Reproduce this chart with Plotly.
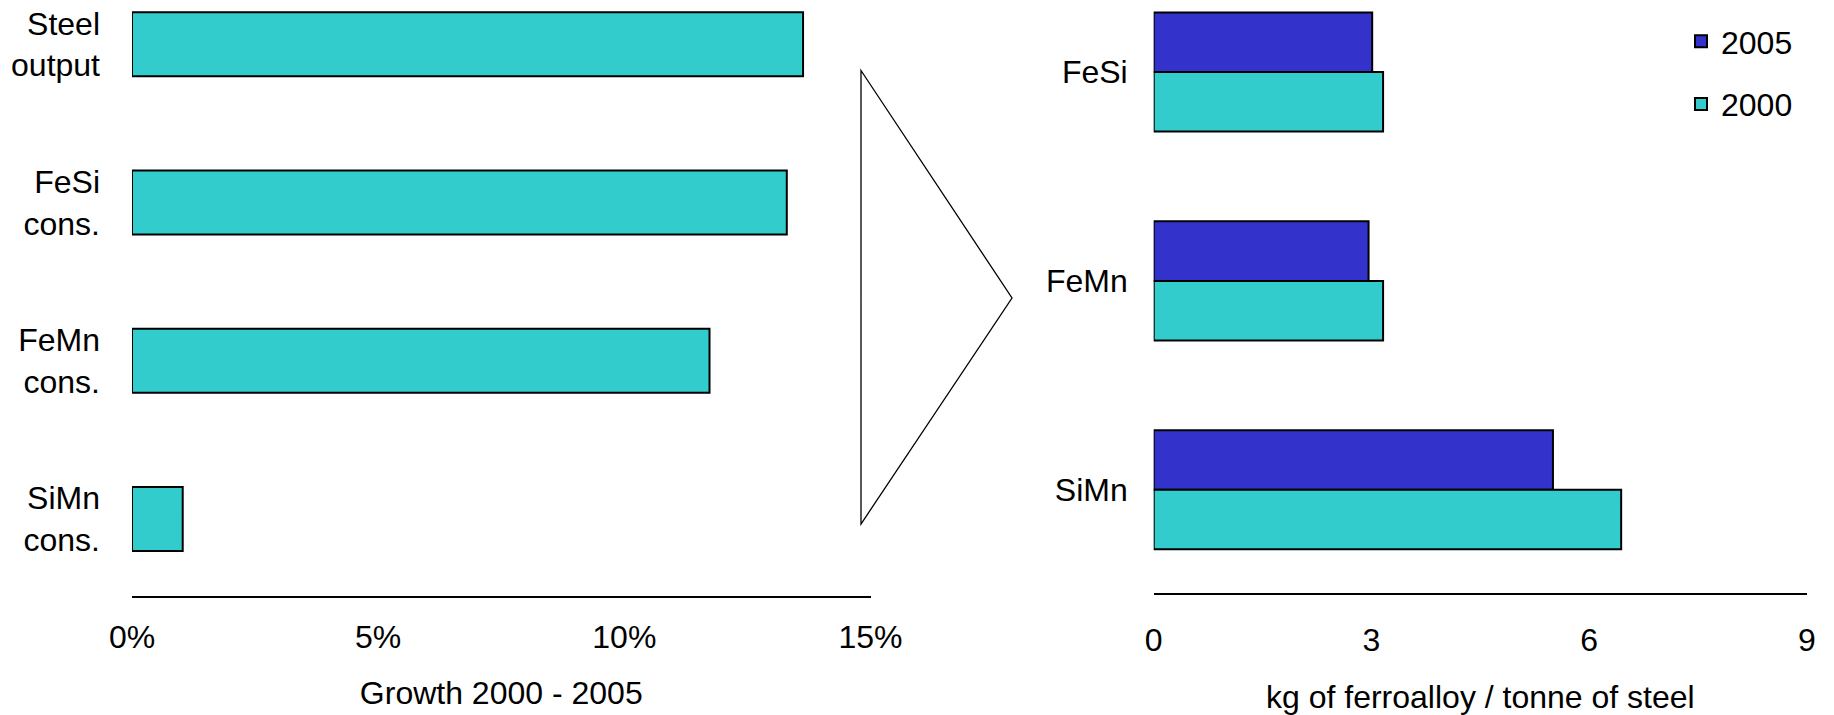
import plotly.graph_objects as go

# Left panel: growth of steel output and ferroalloy consumption, 2000-2005 (%)
growth_labels = ["Steel<br>output", "FeSi<br>cons.", "FeMn<br>cons.", "SiMn<br>cons."]
growth_pct = [13.63, 13.30, 11.73, 1.03]
growth_ticks = [0, 5, 10, 15]
growth_tick_text = ["0%", "5%", "10%", "15%"]

# Right panel: specific ferroalloy consumption (kg per tonne of steel)
alloys = ["FeSi", "FeMn", "SiMn"]
kg_2005 = [3.01, 2.96, 5.50]
kg_2000 = [3.16, 3.16, 6.44]
intensity_ticks = [0, 3, 6, 9]

TEAL = "#33CCCC"
BLUE = "#3333CC"
FONT = "Liberation Sans, Arial, sans-serif"
FS = 32
W, H = 1834, 715

fig = go.Figure()

fig.add_trace(go.Bar(
    y=growth_labels, x=growth_pct, orientation="h",
    width=0.405, marker=dict(color=TEAL, line=dict(color="black", width=2)),
    xaxis="x", yaxis="y", showlegend=False,
))

fig.add_trace(go.Bar(
    y=alloys, x=kg_2005, orientation="h", name="2005", legendgroup="g2005",
    marker=dict(color=BLUE, line=dict(color="black", width=2)),
    xaxis="x2", yaxis="y2",
))
fig.add_trace(go.Bar(
    y=alloys, x=kg_2000, orientation="h", name="2000", legendgroup="g2000",
    marker=dict(color=TEAL, line=dict(color="black", width=2)),
    xaxis="x2", yaxis="y2",
))

# pixel helpers for the panel placement
px_x = lambda p: p / W
px_y = lambda p: 1 - p / H

axis_common = dict(showgrid=False, zeroline=False, ticks="", automargin=False,
                   tickfont=dict(size=FS, color="black"))

fig.update_layout(
    width=W, height=H,
    margin=dict(l=0, r=0, t=0, b=0),
    paper_bgcolor="white", plot_bgcolor="white",
    font=dict(family=FONT, size=FS, color="black"),
    barmode="group", bargap=0.43, bargroupgap=0,
    xaxis=dict(
        domain=[px_x(132), px_x(870.5)], anchor="y", range=[0, 15],
        tickvals=growth_ticks, ticktext=growth_tick_text,
        showline=True, linecolor="black", linewidth=2,
        ticklabelstandoff=12,
        title=dict(text="Growth 2000 - 2005", font=dict(size=FS), standoff=28),
        **axis_common,
    ),
    yaxis=dict(
        domain=[px_y(595.5), 1], anchor="x", range=[3.484, -0.280],
        showline=False, ticklabelstandoff=31,
        **axis_common,
    ),
    xaxis2=dict(
        domain=[px_x(1153.7), px_x(1807)], anchor="y2", range=[0, 9],
        tickvals=intensity_ticks,
        showline=True, linecolor="black", linewidth=2,
        ticklabelstandoff=18,
        title=dict(text="kg of ferroalloy / tonne of steel", font=dict(size=FS), standoff=38),
        **axis_common,
    ),
    yaxis2=dict(
        domain=[px_y(592.7), 1], anchor="x2", range=[2.493, -0.345],
        showline=False, ticklabelstandoff=25,
        **axis_common,
    ),
    legend=dict(
        x=px_x(1681), y=px_y(14), xanchor="left", yanchor="top",
        font=dict(size=FS, color="black"), bgcolor="rgba(0,0,0,0)",
        tracegroupgap=18, traceorder="grouped",
    ),
    shapes=[dict(
        type="path", xref="paper", yref="paper",
        path=(f"M {px_x(861)} {px_y(70.5)} L {px_x(1012)} {px_y(298)} "
              f"L {px_x(861)} {px_y(524)} Z"),
        line=dict(color="black", width=1.3), fillcolor="rgba(0,0,0,0)",
    )],
)

fig.write_html("out.html")
